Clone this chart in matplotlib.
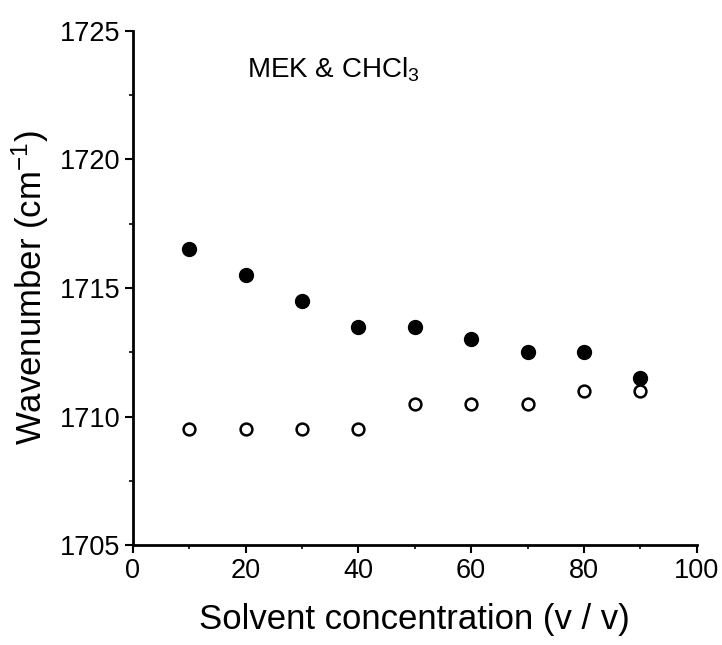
import matplotlib.pyplot as plt
from matplotlib.ticker import MultipleLocator

plt.rcParams['font.family'] = ['Liberation Sans', 'DejaVu Sans']
plt.rcParams['mathtext.fontset'] = 'custom'
plt.rcParams['mathtext.rm'] = 'Liberation Sans'
plt.rcParams['mathtext.it'] = 'Liberation Sans'

# solvent concentration (v/v)
conc = [10, 20, 30, 40, 50, 60, 70, 80, 90]
# filled circles
wn_filled = [1716.5, 1715.5, 1714.5, 1713.5, 1713.5, 1713.0, 1712.5, 1712.5, 1711.5]
# open circles
wn_open = [1709.5, 1709.5, 1709.5, 1709.5, 1710.5, 1710.5, 1710.5, 1711.0, 1711.0]


def main():
    fig = plt.figure(figsize=(7.22, 6.45), dpi=100)
    ax = fig.add_axes([0.184, 0.155, 0.781, 0.797])

    ax.plot(conc, wn_filled, 'o', color='black', markersize=10, linestyle='none')
    ax.plot(conc, wn_open, 'o', markerfacecolor='white', markeredgecolor='black',
            markeredgewidth=1.8, markersize=8.5, linestyle='none')

    ax.set_xlim(0, 100)
    ax.set_ylim(1705, 1725)
    ax.xaxis.set_major_locator(MultipleLocator(20))
    ax.xaxis.set_minor_locator(MultipleLocator(10))
    ax.yaxis.set_major_locator(MultipleLocator(5))
    ax.yaxis.set_minor_locator(MultipleLocator(2.5))

    for side in ['top', 'right']:
        ax.spines[side].set_visible(False)
    for side in ['left', 'bottom']:
        ax.spines[side].set_linewidth(2)

    ax.tick_params(which='major', direction='out', length=6, width=1.5, labelsize=19.5, pad=3)
    ax.tick_params(which='minor', direction='out', length=3, width=1.2)

    ax.set_xlabel('Solvent concentration (v / v)', fontsize=25, labelpad=14)
    ax.set_ylabel('Wavenumber (cm$^{-1}$)', fontsize=25, labelpad=6)
    ax.text(35.5, 1723.2, 'MEK & CHCl$_3$', fontsize=20, ha='center', va='baseline')

    fig.savefig('out.png', dpi=100)


if __name__ == '__main__':
    main()
